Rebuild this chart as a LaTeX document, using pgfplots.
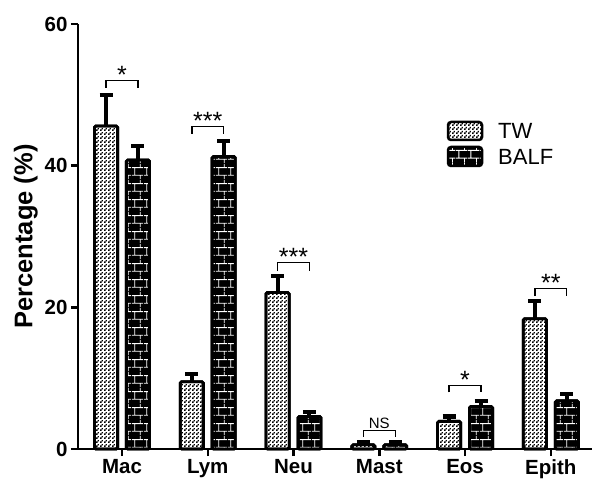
\documentclass[border=0pt]{standalone}
\usepackage{fontspec}
\setmainfont{Liberation Sans}
\usepackage{pgfplots}
\pgfplotsset{compat=1.18}
\usetikzlibrary{patterns}
\pgfdeclarepatternformonly{twdots}{\pgfqpoint{0pt}{0pt}}{\pgfqpoint{4pt}{4pt}}{\pgfqpoint{4pt}{4pt}}{%
  \pgfpathrectangle{\pgfqpoint{0pt}{0pt}}{\pgfqpoint{2pt}{2pt}}%
  \pgfpathrectangle{\pgfqpoint{2pt}{2pt}}{\pgfqpoint{1.6pt}{1.6pt}}%
  \pgfusepath{fill}}
\pgfdeclarepatternformonly{bricksw}{\pgfqpoint{0pt}{0pt}}{\pgfqpoint{12pt}{16pt}}{\pgfqpoint{12pt}{16pt}}{%
  \pgfsetlinewidth{0.9pt}%
  \pgfpathmoveto{\pgfqpoint{0pt}{4pt}}\pgfpathlineto{\pgfqpoint{12pt}{4pt}}%
  \pgfpathmoveto{\pgfqpoint{0pt}{12pt}}\pgfpathlineto{\pgfqpoint{12pt}{12pt}}%
  \pgfpathmoveto{\pgfqpoint{3pt}{4pt}}\pgfpathlineto{\pgfqpoint{3pt}{12pt}}%
  \pgfpathmoveto{\pgfqpoint{9pt}{12pt}}\pgfpathlineto{\pgfqpoint{9pt}{16pt}}%
  \pgfpathmoveto{\pgfqpoint{9pt}{0pt}}\pgfpathlineto{\pgfqpoint{9pt}{4pt}}%
  \pgfusepath{stroke}}
\tikzset{
  twbar/.style={preaction={fill=white}, pattern=twdots, pattern color=black, draw=black, line width=2.8pt, rounded corners=1.5pt},
  balfbar/.style={preaction={fill=black}, pattern=bricksw, pattern color=white, draw=black, line width=2.8pt, rounded corners=1.5pt},
  brk/.style={line width=1.4pt, black},
  star/.style={font=\fontsize{25}{28}\selectfont, anchor=south, inner sep=0pt, yshift=-3pt},
}
\begin{document}
\begin{tikzpicture}
\path[use as bounding box] (-78pt,-33pt) rectangle (515pt,449pt);
\begin{axis}[
  scale only axis, width=514pt, height=425pt,
  xmin=-0.513, xmax=5.48, ymin=0, ymax=60,
  ybar, bar width=0.27,
  axis x line=bottom, axis y line=left,
  axis line style={-, line width=2.5pt},
  xtick={0,1,2,3,4,5},
  xticklabels={Mac,Lym,Neu,Mast,Eos,Epith},
  ytick={0,20,40,60},
  tick align=outside, major tick length=7pt,
  tick style={line width=2.5pt, black},
  /pgf/number format/assume math mode=true,
  tick label style={font=\fontsize{20.5}{24}\selectfont\bfseries},
  ylabel={Percentage (\%)},
  ylabel style={font=\fontsize{25.5}{29}\selectfont\bfseries},
  ylabel shift=0pt,
  error bars/y dir=plus, error bars/y explicit,
  error bars/error mark=|,
  error bars/error bar style={line width=4pt, black, solid},
  error bars/error mark options={line width=4.5pt, mark size=6.5pt, black},
  clip=false,
]
\addplot[twbar, bar shift=-0.186] coordinates {
  (0,45.6) +- (0,4.4)
  (1,9.5) +- (0,1.1)
  (2,22.1) +- (0,2.3)
  (3,0.6) +- (0,0.35)
  (4,3.9) +- (0,0.7)
  (5,18.4) +- (0,2.5)
};
\addplot[balfbar, bar shift=0.186] coordinates {
  (0,40.8) +- (0,2.0)
  (1,41.3) +- (0,2.2)
  (2,4.6) +- (0,0.6)
  (3,0.6) +- (0,0.35)
  (4,6.0) +- (0,0.8)
  (5,6.8) +- (0,1.0)
};
% significance brackets
\draw[brk] (axis cs:-0.186,51) |- (axis cs:0.186,52) -- (axis cs:0.186,51);
\node[star] at (axis cs:0,52) {*};
\draw[brk] (axis cs:0.814,44.5) |- (axis cs:1.186,45.5) -- (axis cs:1.186,44.5);
\node[star] at (axis cs:1,45.5) {***};
\draw[brk] (axis cs:1.814,25.1) |- (axis cs:2.186,26.3) -- (axis cs:2.186,25.1);
\node[star] at (axis cs:2,26.3) {***};
\draw[brk] (axis cs:2.814,1.7) |- (axis cs:3.186,2.6) -- (axis cs:3.186,1.7);
\node[font=\fontsize{15}{17}\selectfont, anchor=south, inner sep=1.5pt] at (axis cs:3,2.6) {NS};
\draw[brk] (axis cs:3.814,8.0) |- (axis cs:4.186,9.0) -- (axis cs:4.186,8.0);
\node[star] at (axis cs:4,9.0) {*};
\draw[brk] (axis cs:4.814,21.6) |- (axis cs:5.186,22.7) -- (axis cs:5.186,21.6);
\node[star] at (axis cs:5,22.7) {**};
\end{axis}
% legend
\draw[twbar, line width=2.5pt, rounded corners=3pt] (370pt,309pt) rectangle (404pt,327pt);
\node[anchor=west, inner sep=0pt, font=\fontsize{22}{26}\selectfont] at (420pt,318pt) {TW};
\draw[balfbar, line width=2.5pt, rounded corners=3pt] (370pt,283pt) rectangle (404pt,302pt);
\node[anchor=west, inner sep=0pt, font=\fontsize{22}{26}\selectfont] at (420pt,292.5pt) {BALF};
\end{tikzpicture}
\end{document}
